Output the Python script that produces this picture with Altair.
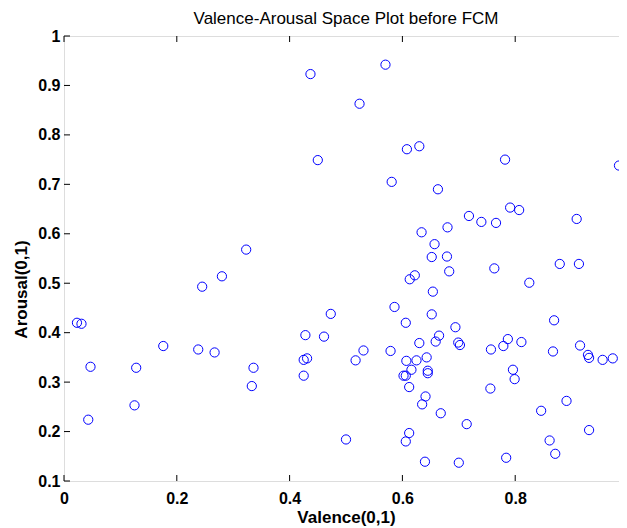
import altair as alt
import pandas as pd

# Data
valence = [
    0.437, 0.450, 0.323,
    0.570, 0.524, 0.608, 0.630, 0.782, 0.984, 0.995, 0.581, 0.663, 0.718,
    0.740, 0.766, 0.791, 0.807, 0.909, 0.634, 0.680, 0.657,
    0.245, 0.280, 0.023, 0.031, 0.473, 0.428, 0.461, 0.176, 0.238, 0.267,
    0.047, 0.128, 0.336, 0.425, 0.431, 0.425, 0.333, 0.125, 0.043, 0.500,
    0.652, 0.679, 0.763, 0.879, 0.913, 0.825, 0.613, 0.622, 0.683, 0.654,
    0.586, 0.652, 0.606, 0.694, 0.869, 0.665, 0.659, 0.630, 0.699, 0.702,
    0.787, 0.779, 0.811, 0.757, 0.867, 0.915, 0.929, 0.931, 0.955, 0.973,
    0.531, 0.517, 0.579, 0.607, 0.625, 0.643, 0.616, 0.645, 0.645, 0.602,
    0.606, 0.612, 0.796, 0.799, 0.756, 0.641, 0.635, 0.668, 0.714, 0.846,
    0.891, 0.931, 0.861, 0.871, 0.612, 0.606, 0.640, 0.700, 0.784,
]
arousal = [
    0.923, 0.749, 0.568,
    0.942, 0.863, 0.771, 0.777, 0.750, 0.738, 0.709, 0.705, 0.690, 0.636,
    0.624, 0.622, 0.653, 0.648, 0.630, 0.603, 0.613, 0.579,
    0.493, 0.514, 0.420, 0.418, 0.438, 0.395, 0.392, 0.373, 0.366, 0.360,
    0.331, 0.329, 0.329, 0.345, 0.348, 0.313, 0.292, 0.253, 0.224, 0.184,
    0.553, 0.554, 0.530, 0.539, 0.539, 0.501, 0.508, 0.516, 0.524, 0.483,
    0.452, 0.437, 0.420, 0.411, 0.425, 0.394, 0.382, 0.379, 0.380, 0.375,
    0.387, 0.373, 0.381, 0.366, 0.362, 0.374, 0.355, 0.349, 0.345, 0.348,
    0.364, 0.344, 0.363, 0.343, 0.344, 0.350, 0.325, 0.323, 0.318, 0.313,
    0.313, 0.290, 0.325, 0.306, 0.287, 0.271, 0.255, 0.237, 0.215, 0.242,
    0.262, 0.203, 0.182, 0.155, 0.197, 0.180, 0.139, 0.137, 0.147,
]
x_ticks = [0, 0.2, 0.4, 0.6, 0.8, 1]
y_ticks = [0.1, 0.2, 0.3, 0.4, 0.5, 0.6, 0.7, 0.8, 0.9, 1]

FONT = "Liberation Sans, Arial, Helvetica, sans-serif"

pts = pd.DataFrame({"valence": valence, "arousal": arousal})
xt = pd.DataFrame({"v": x_ticks})
yt = pd.DataFrame({"v": y_ticks})

xscale = alt.Scale(domain=[0, 1], nice=False, zero=False)
yscale = alt.Scale(domain=[0.1, 1], nice=False, zero=False)

points = alt.Chart(pts).mark_point(
    shape="circle", filled=False, color="#0000ff", size=85, strokeWidth=1, opacity=1
).encode(
    x=alt.X("valence:Q", scale=xscale, axis=alt.Axis(
        values=x_ticks, format="~g", grid=False, ticks=False, domain=False,
        labelFont=FONT, labelFontSize=16, labelFontWeight="bold", labelColor="black",
        labelPadding=9, labelFlush=False, labelOverlap=False,
        title="Valence(0,1)", titleFont=FONT, titleFontSize=17, titleFontWeight="bold",
        titleColor="black", titleBaseline="alphabetic", titleY=41,
    )),
    y=alt.Y("arousal:Q", scale=yscale, axis=alt.Axis(
        values=y_ticks, format="~g", grid=False, ticks=False, domain=False,
        labelFont=FONT, labelFontSize=16, labelFontWeight="bold", labelColor="black",
        labelPadding=4, labelFlush=False, labelOverlap=False,
        title="Arousal(0,1)", titleFont=FONT, titleFontSize=17, titleFontWeight="bold",
        titleColor="black", titleBaseline="alphabetic", titleX=-38, titleY=253,
    )),
)

tick_style = dict(color="black", thickness=1, size=6, opacity=1)

bottom_ticks = alt.Chart(xt).mark_tick(orient="vertical", yOffset=-3, **tick_style).encode(
    x=alt.X("v:Q", scale=xscale), y=alt.datum(0.1))
top_ticks = alt.Chart(xt).mark_tick(orient="vertical", yOffset=3, **tick_style).encode(
    x=alt.X("v:Q", scale=xscale), y=alt.datum(1))
left_ticks = alt.Chart(yt).mark_tick(orient="horizontal", xOffset=3, **tick_style).encode(
    y=alt.Y("v:Q", scale=yscale), x=alt.datum(0))
right_ticks = alt.Chart(yt).mark_tick(orient="horizontal", xOffset=-3, **tick_style).encode(
    y=alt.Y("v:Q", scale=yscale), x=alt.datum(1))

chart = alt.layer(bottom_ticks, top_ticks, left_ticks, right_ticks, points).properties(
    width=564,
    height=445,
    title=alt.TitleParams(
        text="Valence-Arousal Space Plot before FCM",
        font=FONT, fontSize=17, fontWeight="normal", color="black",
        anchor="middle", baseline="alphabetic", offset=0, dy=13,
    ),
    autosize=alt.AutoSizeParams(type="none"),
    padding={"left": 56, "top": 28, "right": -9, "bottom": 46},
).configure_view(stroke="black", strokeWidth=1.2).configure(background="white")

chart.save("out.html", embed_options={"renderer": "svg", "actions": False})
